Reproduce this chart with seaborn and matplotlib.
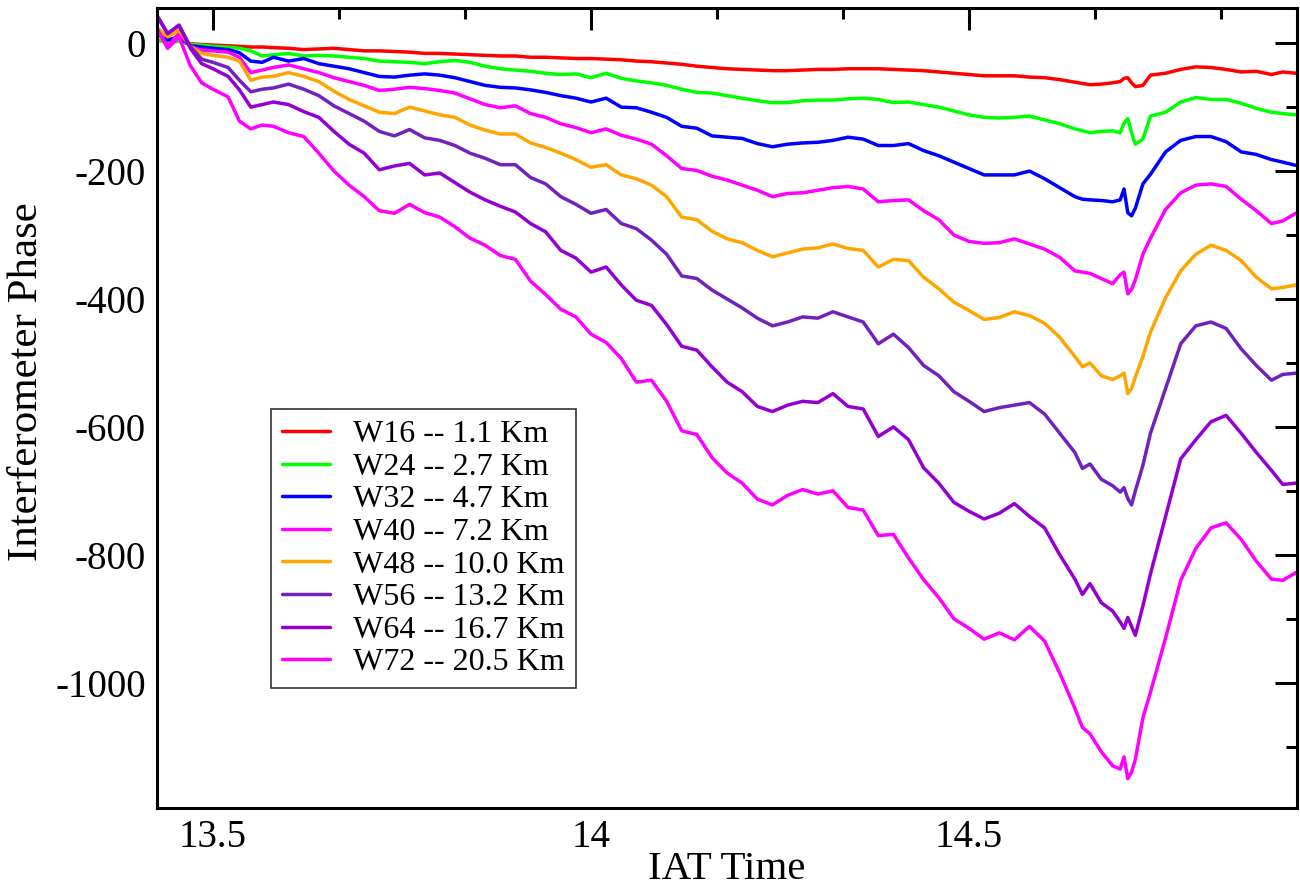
import matplotlib
matplotlib.use('Agg')
import matplotlib.pyplot as plt
from matplotlib.ticker import MultipleLocator, FuncFormatter
import pandas as pd
import seaborn as sns

# time axis (IAT hours), shared by all wires
time = [13.425, 13.44, 13.455, 13.47, 13.485, 13.5, 13.52, 13.535, 13.55, 13.565,
        13.58, 13.6, 13.62, 13.64, 13.66, 13.68, 13.7, 13.72, 13.74, 13.76,
        13.78, 13.8, 13.82, 13.84, 13.86, 13.88, 13.9, 13.92, 13.94, 13.96,
        13.98, 14.0, 14.02, 14.04, 14.06, 14.08, 14.1, 14.12, 14.14, 14.16,
        14.18, 14.2, 14.22, 14.24, 14.26, 14.28, 14.3, 14.32, 14.34, 14.36,
        14.38, 14.4, 14.42, 14.44, 14.46, 14.48, 14.5, 14.52, 14.54, 14.56,
        14.58, 14.6, 14.62, 14.64, 14.65, 14.66, 14.675, 14.69, 14.7, 14.705,
        14.71, 14.715, 14.72, 14.73, 14.74, 14.76, 14.78, 14.8, 14.82, 14.84,
        14.86, 14.88, 14.9, 14.915, 14.932]

w16 = [5, 2, 3, -1, -2, -3, -4, -5, -6, -6,
       -7, -8, -10, -9, -8, -10, -12, -12, -13, -14,
       -16, -16, -17, -18, -19, -20, -20, -22, -22, -23,
       -24, -24, -25, -26, -28, -29, -31, -33, -36, -38,
       -40, -41, -42, -43, -43, -42, -41, -41, -40, -40,
       -40, -41, -42, -43, -45, -47, -49, -51, -51, -51,
       -53, -54, -57, -61, -63, -65, -64, -62, -60, -55,
       -54, -62, -68, -66, -50, -47, -41, -37, -38, -41,
       -45, -44, -49, -45, -47]

w24 = [5, 2, 3, -2, -3, -5, -6, -8, -12, -20,
       -18, -16, -20, -19, -20, -22, -24, -28, -29, -30,
       -32, -29, -27, -30, -36, -40, -42, -44, -47, -49,
       -48, -54, -47, -55, -59, -62, -66, -72, -77, -78,
       -82, -86, -90, -93, -93, -90, -89, -89, -87, -86,
       -88, -93, -92, -96, -100, -106, -112, -116, -117, -116,
       -114, -120, -126, -134, -137, -140, -138, -137, -140, -125,
       -118, -140, -158, -150, -114, -108, -92, -85, -88, -88,
       -94, -102, -108, -110, -112]

w32 = [15, 5, 10, -4, -6, -8, -10, -15, -28, -30,
       -22, -28, -24, -32, -36, -40, -46, -52, -53, -50,
       -48, -50, -54, -60, -66, -69, -70, -73, -77, -82,
       -86, -92, -86, -100, -101, -108, -116, -130, -133, -145,
       -147, -149, -157, -162, -158, -156, -155, -152, -147, -150,
       -160, -160, -157, -168, -176, -186, -196, -206, -206, -206,
       -200, -212, -226, -240, -244, -245, -246, -248, -245, -228,
       -265, -270, -258, -220, -205, -170, -152, -146, -146, -154,
       -170, -174, -182, -186, -191]

w40 = [25, -5, 15, -5, -11, -12, -14, -22, -46, -42,
       -38, -34, -40, -46, -54, -60, -66, -74, -72, -69,
       -71, -74, -78, -87, -96, -101, -98, -110, -116, -126,
       -132, -140, -134, -144, -150, -158, -176, -196, -199, -208,
       -214, -222, -230, -240, -235, -234, -230, -226, -224, -228,
       -248, -246, -245, -262, -276, -300, -310, -313, -312, -306,
       -314, -322, -335, -356, -358, -360, -368, -376, -362, -358,
       -392, -385, -370, -330, -305, -260, -234, -222, -220, -224,
       -244, -262, -282, -278, -266]

w48 = [25, 10, 20, -5, -16, -19, -22, -28, -58, -53,
       -52, -46, -52, -60, -75, -88, -98, -108, -110, -100,
       -106, -112, -116, -128, -136, -142, -142, -156, -163, -172,
       -182, -194, -190, -206, -212, -222, -240, -272, -276, -294,
       -306, -312, -324, -334, -328, -322, -320, -314, -321, -324,
       -350, -338, -340, -366, -384, -405, -418, -432, -429, -420,
       -426, -438, -460, -490, -506, -500, -520, -526, -520, -516,
       -548, -540, -522, -490, -452, -398, -356, -330, -316, -324,
       -340, -366, -384, -382, -378]

w56 = [45, 15, 28, -5, -25, -30, -38, -58, -76, -72,
       -70, -64, -72, -82, -98, -110, -122, -138, -145, -135,
       -148, -152, -160, -172, -180, -190, -190, -210, -220, -240,
       -252, -266, -260, -282, -290, -308, -330, -364, -368, -386,
       -400, -414, -430, -442, -436, -428, -430, -420, -428, -436,
       -470, -455, -476, -504, -520, -545, -560, -576, -570, -566,
       -562, -580, -610, -640, -665, -658, -682, -692, -702, -695,
       -712, -722, -700, -660, -610, -540, -470, -442, -436, -446,
       -478, -504, -527, -518, -516]

w64 = [45, 15, 28, -8, -32, -40, -52, -73, -100, -96,
       -92, -96, -107, -116, -138, -158, -172, -198, -192, -188,
       -206, -203, -218, -233, -245, -255, -264, -282, -295, -324,
       -336, -358, -350, -378, -402, -410, -440, -474, -480, -506,
       -530, -545, -568, -576, -566, -560, -562, -548, -568, -572,
       -615, -600, -620, -664, -688, -718, -732, -744, -735, -720,
       -740, -758, -800, -838, -862, -845, -875, -888, -905, -915,
       -898, -912, -926, -880, -830, -740, -650, -620, -592, -582,
       -610, -640, -668, -690, -688]

w72 = [25, -8, 10, -35, -62, -72, -84, -122, -134, -128,
       -130, -140, -146, -172, -200, -222, -240, -262, -266, -252,
       -265, -272, -287, -305, -316, -332, -338, -372, -393, -416,
       -428, -455, -468, -493, -530, -527, -560, -606, -612, -648,
       -672, -688, -713, -722, -707, -698, -705, -700, -726, -730,
       -770, -768, -805, -839, -867, -900, -915, -932, -922, -933,
       -912, -935, -985, -1040, -1070, -1080, -1108, -1130, -1135, -1116,
       -1150, -1140, -1120, -1055, -1015, -930, -840, -790, -758, -750,
       -776, -810, -838, -840, -828]

labels = ['W16 -- 1.1 Km', 'W24 -- 2.7 Km', 'W32 -- 4.7 Km', 'W40 -- 7.2 Km',
          'W48 -- 10.0 Km', 'W56 -- 13.2 Km', 'W64 -- 16.7 Km', 'W72 -- 20.5 Km']
colors = ['#ff0000', '#00ff00', '#0000ff', '#ff00ff',
          '#ffa500', '#7221bc', '#9400d3', '#ff00ff']
series = [w16, w24, w32, w40, w48, w56, w64, w72]

# long format for seaborn
frames = []
for lab, vals in zip(labels, series):
    frames.append(pd.DataFrame({'time': time, 'phase': vals, 'wire': lab}))
df = pd.concat(frames, ignore_index=True)

sns.set_theme(style='white')
plt.rcParams['font.family'] = ['Liberation Serif', 'DejaVu Serif']
plt.rcParams['axes.unicode_minus'] = False
plt.rcParams['text.color'] = 'black'
plt.rcParams['axes.labelcolor'] = 'black'

fig = plt.figure(figsize=(13, 8.9), dpi=100)
ax = fig.add_axes([0.1208, 0.0921, 0.877, 0.8989])

sns.lineplot(data=df, x='time', y='phase', hue='wire', hue_order=labels,
             palette=colors, linewidth=2.5, sort=False, estimator=None, ax=ax)

ax.set_xlim(13.426, 14.934)
ax.set_ylim(-1196, 55)

ax.xaxis.set_major_locator(MultipleLocator(0.5))
ax.xaxis.set_minor_locator(MultipleLocator(0.5 / 3))
ax.yaxis.set_major_locator(MultipleLocator(200))
ax.yaxis.set_minor_locator(MultipleLocator(100))
fmt = FuncFormatter(lambda v, p: '%g' % v)
ax.xaxis.set_major_formatter(fmt)
ax.yaxis.set_major_formatter(fmt)

ax.tick_params(which='both', direction='in', top=True, right=True,
               width=2.2, colors='black', labelsize=28)
ax.tick_params(which='major', length=16, pad=8)
ax.tick_params(which='minor', length=8)
for s in ax.spines.values():
    s.set_linewidth(2.2)
    s.set_color('black')

ax.set_xlabel('IAT Time', fontsize=29.5, labelpad=-4)
ax.set_ylabel('Interferometer Phase', fontsize=31)
ax.yaxis.set_label_coords(-0.097, 0.533)

leg = ax.legend(loc='upper left', bbox_to_anchor=(0.100, 0.499), borderaxespad=0,
                fontsize=23, frameon=True, fancybox=False, edgecolor='#333333',
                framealpha=1, handlelength=1.5, handletextpad=0.72,
                labelspacing=0.1, borderpad=0.35, title=None)
leg.get_frame().set_linewidth(1.2)
for line in leg.get_lines():
    line.set_linewidth(2.5)

fig.savefig('out.png', dpi=100)
